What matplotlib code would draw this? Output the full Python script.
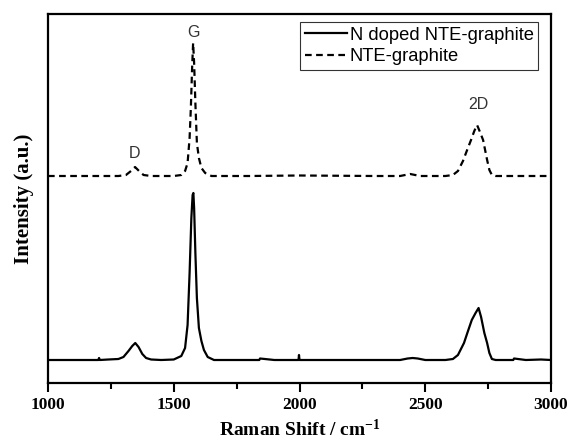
import matplotlib.pyplot as plt

plt.rcParams["mathtext.default"] = "regular"

# Raman shift (cm-1) and intensity (a.u.)
doped_x = [1000, 1060, 1120, 1180, 1200, 1203, 1206, 1240, 1280, 1300, 1320, 1335,
           1347, 1360, 1375, 1390, 1410, 1450, 1500, 1530, 1545, 1555, 1563, 1570,
           1575, 1578, 1581, 1586, 1592, 1600, 1610, 1620, 1635, 1660, 1700, 1760,
           1800, 1840, 1843, 1900, 1960, 1996, 1998, 2000, 2100, 2200, 2300, 2400,
           2430, 2450, 2470, 2500, 2580, 2610, 2630, 2654, 2670, 2685, 2700, 2712,
           2722, 2735, 2746, 2755, 2765, 2780, 2850, 2853, 2900, 2960, 3000]
doped_y = [23, 23, 23, 23, 23, 25, 23, 23.5, 24, 26, 32, 37,
           40, 36, 29, 25, 23.5, 23, 23.5, 27, 35, 58, 110, 165,
           188, 190, 175, 130, 85, 55, 42, 33, 26, 23, 23, 23,
           23, 23, 24.5, 23, 23, 23, 28, 23, 23, 23, 23, 23,
           24.5, 25, 24.5, 23, 23, 24, 28, 40, 52, 63, 70, 75,
           66, 50, 40, 30, 24, 23, 23, 24.5, 23, 23.5, 23]

pristine_x = [1000, 1200, 1280, 1310, 1330, 1346, 1362, 1380, 1410, 1500, 1530,
              1545, 1555, 1563, 1568, 1573, 1577, 1581, 1586, 1592, 1600, 1610,
              1625, 1650, 1800, 2000, 2300, 2400, 2440, 2480, 2580, 2610, 2630,
              2650, 2665, 2682, 2695, 2706, 2716, 2730, 2746, 2755, 2765, 2780, 3000]
pristine_y = [207, 207, 207, 208, 212, 216, 212, 208, 207, 207, 208,
              212, 220, 245, 275, 315, 340, 320, 280, 240, 225, 215,
              210, 207, 207, 207.5, 207, 207, 209, 207, 207, 208, 212,
              222, 232, 243, 252, 258, 252, 243, 223, 213, 208, 207, 207]

peak_names = ["D", "G", "2D"]
peak_x = [1342, 1577, 2710]
peak_y = [230, 351, 279]

fig = plt.figure(figsize=(5.67, 4.44), dpi=100)
ax = fig.add_axes([48 / 567, 1 - 383 / 444, 503 / 567, 369 / 444])

ax.plot(doped_x, doped_y, color="black", lw=1.6, label="N doped NTE-graphite")
ax.plot(pristine_x, pristine_y, color="black", lw=1.6, ls=(0, (3, 2)),
        label="NTE-graphite")

for name, px, py in zip(peak_names, peak_x, peak_y):
    ax.text(px, py, name, ha="center", va="center", fontsize=11.5,
            family="Liberation Sans", color="#333333")

ax.set_xlim(1000, 3000)
ax.set_ylim(0, 369)
ax.set_xticks([1000, 1500, 2000, 2500, 3000])
ax.set_xticks([1250, 1750, 2250, 2750], minor=True)
ax.set_yticks([])
ax.tick_params(axis="x", which="major", length=6.5, width=1.5)
ax.tick_params(axis="x", which="minor", length=4, width=1.5)
for lab in ax.get_xticklabels():
    lab.set_family("Liberation Serif")
    lab.set_fontweight("bold")
    lab.set_fontsize(12.5)
for s in ax.spines.values():
    s.set_linewidth(1.6)

ax.set_xlabel("Raman Shift / cm$^{-1}$", family="Liberation Serif",
              fontweight="bold", fontsize=14, labelpad=4)
ax.set_ylabel("Intensity (a.u.)", family="Liberation Serif",
              fontweight="bold", fontsize=15, labelpad=10)

leg = ax.legend(loc="upper right", bbox_to_anchor=(0.975, 0.978), fancybox=False,
                edgecolor="black", handlelength=2.3, handletextpad=0.15,
                borderpad=0.25, labelspacing=0.25, borderaxespad=0,
                prop={"family": "Liberation Sans", "size": 13.2})
leg.get_frame().set_linewidth(0.8)

fig.savefig("out.png", dpi=100)
